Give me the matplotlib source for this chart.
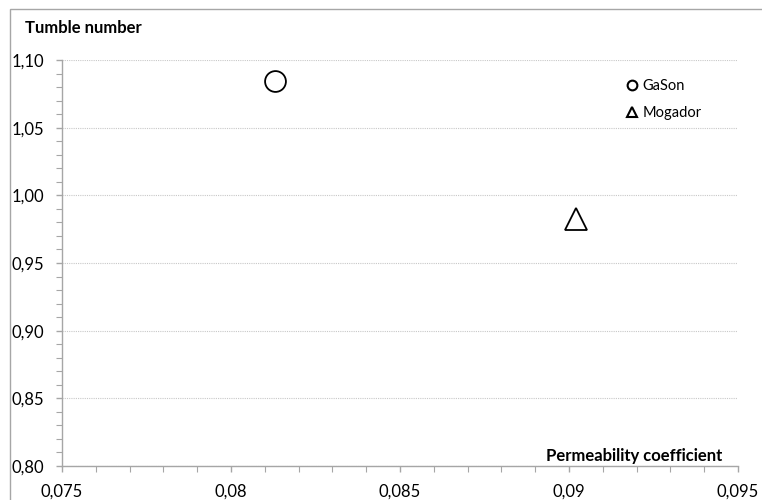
import matplotlib
matplotlib.use("Agg")
import matplotlib.pyplot as plt
from matplotlib.ticker import MultipleLocator
from matplotlib.lines import Line2D
from matplotlib.patches import Rectangle

plt.rcParams['font.family'] = ['Lato', 'DejaVu Sans']

series = ["GaSon", "Mogador"]
x_vals = [0.0813, 0.0902]
y_vals = [1.0845, 0.9825]
markers = ["o", "^"]

x_ticks = [0.075, 0.08, 0.085, 0.09, 0.095]
x_labels = ["0,075", "0,08", "0,085", "0,09", "0,095"]
y_ticks = [0.80, 0.85, 0.90, 0.95, 1.00, 1.05, 1.10]
y_labels = ["0,80", "0,85", "0,90", "0,95", "1,00", "1,05", "1,10"]

W, H = 762, 500
fig = plt.figure(figsize=(W / 100, H / 100), dpi=100)
fig.patches.append(Rectangle((10 / W, -0.1), 1.2, 1 - 9 / H + 0.1, transform=fig.transFigure,
                             fill=False, edgecolor="#a6a6a6", linewidth=1.0, zorder=0))
ax = fig.add_axes([62 / W, 1 - 466 / H, (738 - 62) / W, (466 - 60) / H])

for name, x, y, m in zip(series, x_vals, y_vals, markers):
    ax.plot([x], [y], linestyle="none", marker=m, markersize=15 if m == "o" else 16,
            markerfacecolor="white", markeredgecolor="black", markeredgewidth=1.3,
            label=name, zorder=3, clip_on=False)

ax.set_xlim(0.075, 0.095)
ax.set_ylim(0.80, 1.10)
ax.set_xticks(x_ticks)
ax.set_xticklabels(x_labels)
ax.set_yticks(y_ticks)
ax.set_yticklabels(y_labels)
ax.xaxis.set_minor_locator(MultipleLocator(0.001))
ax.yaxis.set_minor_locator(MultipleLocator(0.01))

ax.grid(axis="y", which="major", color="#c8c8c8", linestyle=(0, (1, 1)), linewidth=0.8)
for s in ["top", "right"]:
    ax.spines[s].set_visible(False)
for s in ["left", "bottom"]:
    ax.spines[s].set_color("#a6a6a6")
    ax.spines[s].set_linewidth(1.0)

ax.tick_params(axis="both", which="major", colors="#a6a6a6", labelcolor="black",
               labelsize=12, length=4, width=1)
ax.tick_params(axis="both", which="minor", colors="#a6a6a6", length=4, width=0.8)
ax.tick_params(axis="y", which="major", pad=9)
ax.tick_params(axis="x", which="major", pad=9)

fig.text(25 / W, 1 - 28 / H, "Tumble number", fontsize=12, fontweight="bold",
         ha="left", va="center")
fig.text(722 / W, 1 - 456 / H, "Permeability coefficient",
         fontsize=12, fontweight="bold", ha="right", va="center")

handles = [Line2D([], [], linestyle="none", marker=m, markersize=7,
                  markerfacecolor="white", markeredgecolor="black", markeredgewidth=1.5)
           for m in markers]
ax.legend(handles, series, loc="upper left", bbox_to_anchor=(619 / W, 1 - 72 / H),
          bbox_transform=fig.transFigure, frameon=False, fontsize=10.5,
          handlelength=0.8, handletextpad=0.3, labelspacing=0.85, borderpad=0)

fig.savefig("out.png", dpi=100)
